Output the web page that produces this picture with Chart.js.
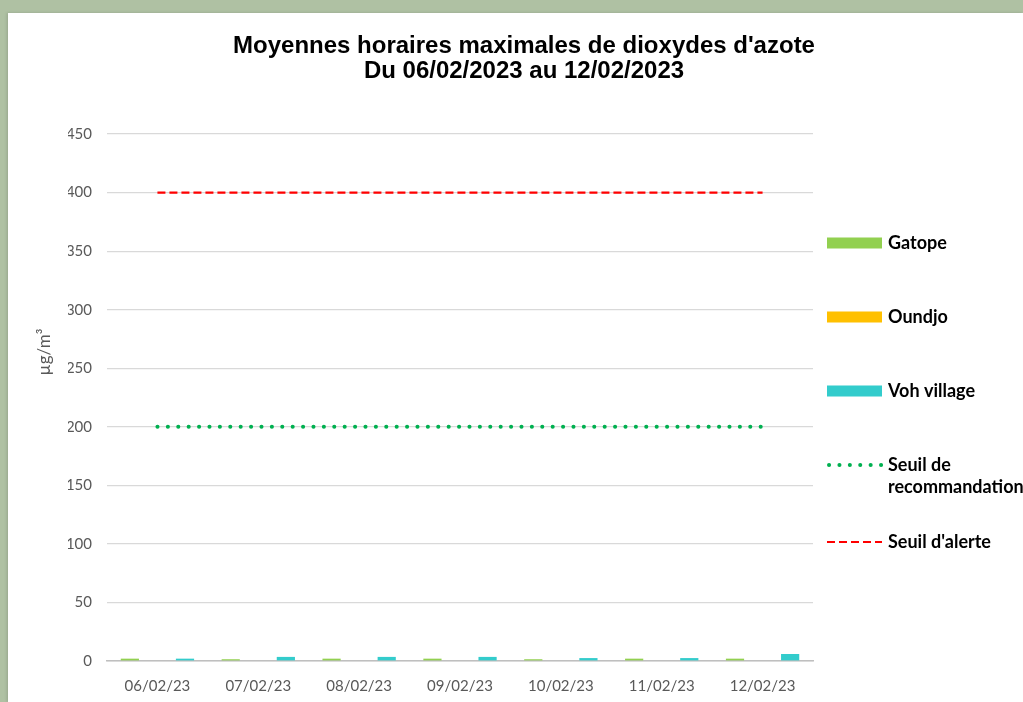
<!DOCTYPE html>
<html lang="fr">
<head>
<meta charset="UTF-8">
<title>Dioxydes d'azote</title>
<script src="https://cdn.jsdelivr.net/npm/chart.js"></script>
<style>
  body { margin: 0; background: #afc1a3; width: 1023px; height: 702px; overflow: hidden; }
  #card { position: absolute; left: 8px; top: 13px; width: 1015px; height: 689px; background: #fff; box-shadow: -1px 0 3px rgba(0,0,0,0.15); }
</style>
</head>
<body>
<div id="card"><canvas id="chart"></canvas></div>
<script>
// données
const categories = ['06/02/23', '07/02/23', '08/02/23', '09/02/23', '10/02/23', '11/02/23', '12/02/23'];
const gatope = [2, 1.5, 2, 2, 1.5, 2, 2];
const oundjo = [0, 0, 0, 0, 0, 0, 0];
const vohVillage = [2, 3.5, 3.5, 3.5, 2.5, 2.5, 6];
const seuilRecommandation = [200, 200, 200, 200, 200, 200, 200];
const seuilAlerte = [400, 400, 400, 400, 400, 400, 400];
const titleLines = ["Moyennes horaires maximales de dioxydes d'azote", 'Du 06/02/2023 au 12/02/2023'];
const yAxisTitle = 'µg/m³';

const axisFont = { family: 'Lato', size: 15 };

// titre centré sur toute la carte + titre de l'axe Y
const texts = {
  id: 'texts',
  afterDraw(chart) {
    const ctx = chart.ctx;
    ctx.save();
    ctx.fillStyle = '#000';
    ctx.font = 'bold 24px "Liberation Sans"';
    ctx.textAlign = 'center';
    ctx.textBaseline = 'middle';
    titleLines.forEach((t, i) => ctx.fillText(t, 516, 33 + i * 25));

    ctx.translate(37, 339);
    ctx.rotate(-Math.PI / 2);
    ctx.font = '17px Lato';
    ctx.fillStyle = '#595959';
    ctx.fillText(yAxisTitle, 0, 0);
    ctx.restore();
  }
};

// légende dessinée à droite (libellés sur deux lignes possibles)
const rightLegend = {
  id: 'rightLegend',
  afterDraw(chart) {
    const ctx = chart.ctx;
    const items = [
      { ds: 0, text: ['Gatope'] },
      { ds: 1, text: ['Oundjo'] },
      { ds: 2, text: ['Voh village'] },
      { ds: 3, text: ['Seuil de', 'recommandation'] },
      { ds: 4, text: ["Seuil d'alerte"] }
    ];
    const ys = [230, 304, 378, 452, 529];
    ctx.save();
    ctx.font = 'bold 18px Lato';
    ctx.textBaseline = 'middle';
    items.forEach((it, i) => {
      const d = chart.data.datasets[it.ds];
      const y = ys[i];
      if (d.type === 'line') {
        ctx.strokeStyle = d.borderColor;
        ctx.lineWidth = d.borderWidth;
        ctx.lineCap = d.borderCapStyle || 'butt';
        ctx.setLineDash(d.borderDash);
        ctx.beginPath();
        ctx.moveTo(d.borderCapStyle === 'round' ? 821 : 819, y);
        ctx.lineTo(874, y);
        ctx.stroke();
        ctx.setLineDash([]);
      } else {
        ctx.fillStyle = d.backgroundColor;
        ctx.fillRect(819, y - 5.5, 55, 11);
      }
      ctx.fillStyle = '#000';
      it.text.forEach((t, k) => ctx.fillText(t, 880, y + k * 22));
    });
    ctx.restore();
  }
};

new Chart(document.getElementById('chart'), {
  data: {
    labels: categories,
    datasets: [
      { type: 'bar', label: 'Gatope', data: gatope, backgroundColor: '#92d050', order: 2 },
      { type: 'bar', label: 'Oundjo', data: oundjo, backgroundColor: '#ffc000', order: 2 },
      { type: 'bar', label: 'Voh village', data: vohVillage, backgroundColor: '#33cccc', order: 2 },
      { type: 'line', label: 'Seuil de recommandation', data: seuilRecommandation, borderColor: '#00b050',
        borderWidth: 4, borderDash: [0.1, 10.3], borderCapStyle: 'round', pointRadius: 0, fill: false, order: 1 },
      { type: 'line', label: "Seuil d'alerte", data: seuilAlerte, borderColor: '#ff0000',
        borderWidth: 2.2, borderDash: [8, 4], pointRadius: 0, fill: false, order: 0 }
    ]
  },
  options: {
    responsive: true,
    maintainAspectRatio: false,
    animation: false,
    datasets: { bar: { categoryPercentage: 0.82, barPercentage: 0.66 } },
    layout: { padding: { left: 60, right: 210, top: 121, bottom: 7 } },
    plugins: {
      legend: { display: false },
      tooltip: { enabled: false },
      title: { display: false }
    },
    scales: {
      x: {
        grid: { display: false, drawTicks: false, tickLength: 0 },
        border: { color: '#bfbfbf', width: 1.5 },
        ticks: { color: '#595959', font: axisFont, padding: 16, maxRotation: 0 },
        afterFit(scale) { scale.height = 34; scale.paddingLeft = 0; scale.paddingRight = 0; }
      },
      y: {
        min: 0, max: 450,
        ticks: { stepSize: 50, color: '#595959', font: axisFont, padding: 15 },
        grid: { color: '#d9d9d9', lineWidth: 1.2, drawTicks: false, tickLength: 0 },
        border: { display: false },
        afterFit(scale) { scale.width = 39; scale.paddingTop = 0; scale.paddingBottom = 0; }
      }
    }
  },
  plugins: [rightLegend, texts]
});
</script>
</body>
</html>
